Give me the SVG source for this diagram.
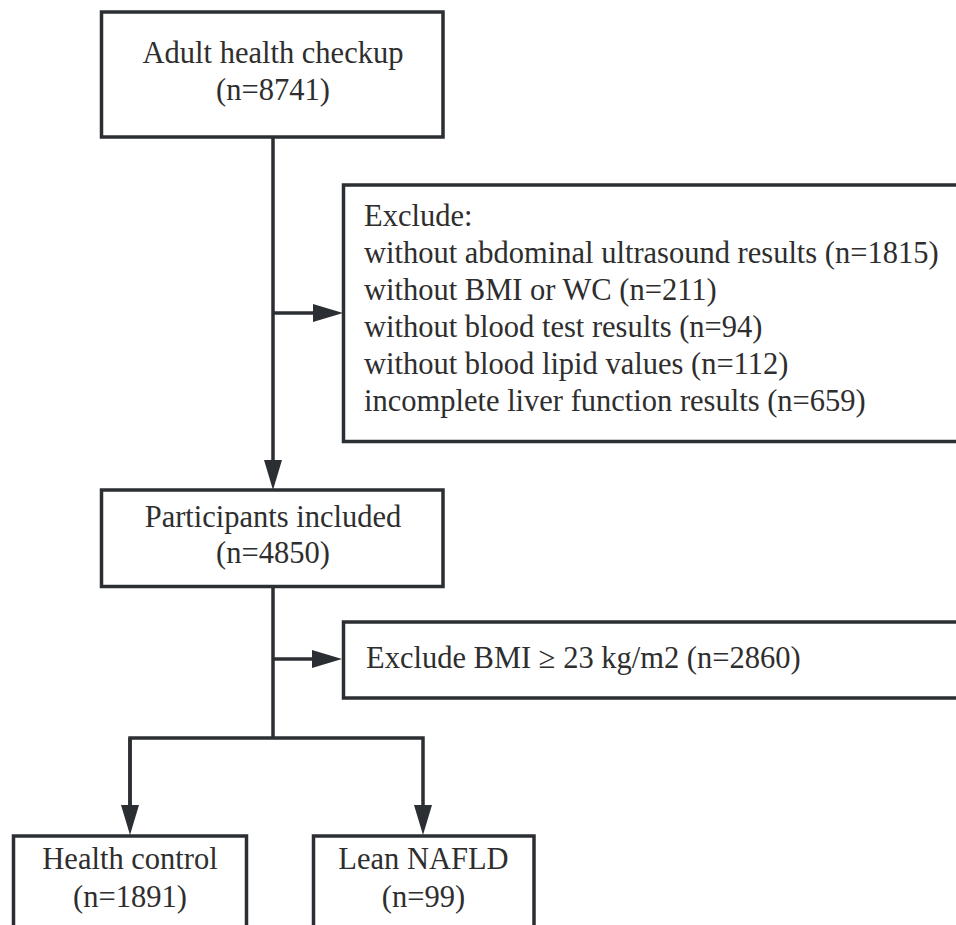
<svg xmlns="http://www.w3.org/2000/svg" width="956" height="925" viewBox="0 0 956 925">
<defs>
<marker id="ah" viewBox="0 0 30 18" refX="10" refY="9" markerWidth="30" markerHeight="18" markerUnits="userSpaceOnUse" orient="auto">
<path d="M0,0 L30,9 L0,18 z" fill="#2b2e32"/>
</marker>
<style>
.box{fill:#ffffff;stroke:#2b2e32;stroke-width:3.5}
.t{font-family:'Liberation Serif','Times New Roman',Times,serif;font-size:30.5px;fill:#2e2e2e}
.c{text-anchor:middle}
.ln{fill:none;stroke:#2b2e32;stroke-width:3.5}
</style>
</defs>
<rect width="956" height="925" fill="#ffffff"/>
<g id="connectors">
<path class="ln" d="M273,137 V470" marker-end="url(#ah)"/>
<path class="ln" d="M273,313 H323" marker-end="url(#ah)"/>
<path class="ln" d="M273,587 V738"/>
<path class="ln" d="M273,659 H322" marker-end="url(#ah)"/>
<path class="ln" d="M130,815 V738 H423 V815" marker-end="url(#ah)"/>
<path class="ln" d="M130,738 V815" marker-end="url(#ah)"/>
</g>
<g id="node-checkup">
<rect class="box" x="101.5" y="12" width="341.5" height="125"/>
<text class="t c" x="273" y="63">Adult health checkup</text>
<text class="t c" x="273" y="100">(n=8741)</text>
</g>
<g id="node-exclude1">
<rect class="box" x="343.5" y="185" width="625" height="256.5"/>
<text class="t" x="364" y="226">Exclude:</text>
<text class="t" x="364" y="263">without abdominal ultrasound results (n=1815)</text>
<text class="t" x="364" y="300">without BMI or WC (n=211)</text>
<text class="t" x="364" y="337">without blood test results (n=94)</text>
<text class="t" x="364" y="374">without blood lipid values (n=112)</text>
<text class="t" x="364" y="411">incomplete liver function results (n=659)</text>
</g>
<g id="node-participants">
<rect class="box" x="101.5" y="490" width="341.5" height="96.5"/>
<text class="t c" x="273" y="527">Participants included</text>
<text class="t c" x="273" y="563">(n=4850)</text>
</g>
<g id="node-exclude2">
<rect class="box" x="343.5" y="622" width="625" height="76"/>
<text class="t" x="366" y="668">Exclude BMI ≥ 23 kg/m2 (n=2860)</text>
</g>
<g id="node-health-control">
<rect class="box" x="13.5" y="836" width="233" height="110"/>
<text class="t c" x="130" y="869">Health control</text>
<text class="t c" x="130" y="907">(n=1891)</text>
</g>
<g id="node-lean-nafld">
<rect class="box" x="313.5" y="836" width="220.5" height="110"/>
<text class="t c" x="423.5" y="869">Lean NAFLD</text>
<text class="t c" x="423.5" y="907">(n=99)</text>
</g>
</svg>
